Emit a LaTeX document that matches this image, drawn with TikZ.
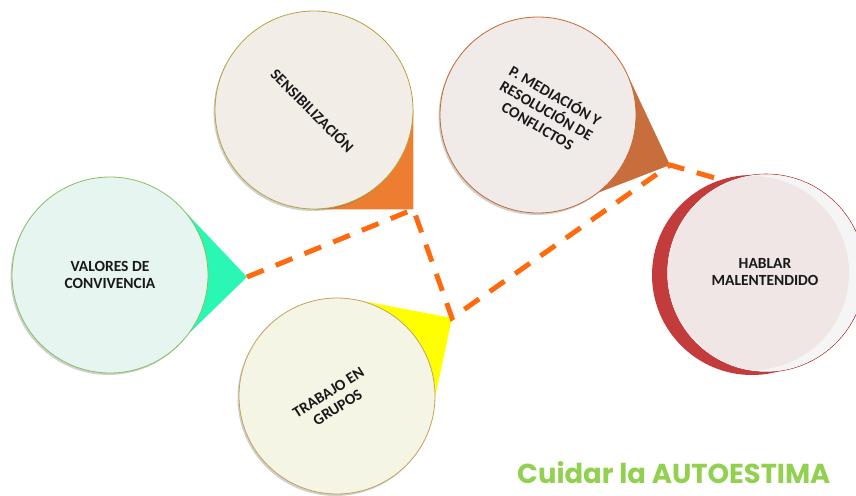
\documentclass[tikz,border=0pt]{standalone}
\usepackage{fontspec}
\setmainfont{Carlito}
\newfontfamily\notefont{Poppins}
\usetikzlibrary{calc,shadows}

\definecolor{dashorange}{HTML}{FF6A0E}
\definecolor{vfill}{HTML}{E6F5F0}
\definecolor{vline}{HTML}{86C062}
\definecolor{vtail}{HTML}{2BF7B5}
\definecolor{sfill}{HTML}{F3EDE8}
\definecolor{sline}{HTML}{B5A53F}
\definecolor{stail}{HTML}{ED7D31}
\definecolor{mfill}{HTML}{F0EBE8}
\definecolor{mline}{HTML}{C46A35}
\definecolor{mtail}{HTML}{C86E3C}
\definecolor{tfill}{HTML}{F5F5E6}
\definecolor{tline}{HTML}{C4A35A}
\definecolor{ttail}{HTML}{FFFF00}
\definecolor{hred}{HTML}{C43B3B}
\definecolor{hface}{HTML}{F1E6E6}
\definecolor{hlight}{HTML}{F6F5F5}
\definecolor{notegreen}{HTML}{92D050}

\pgfdeclarelayer{background}
\pgfsetlayers{background,main}

\begin{document}
\begin{tikzpicture}[x=1pt,y=-1pt,
  bubble/.style={circle, inner sep=0pt, minimum size=196pt, line width=0.8pt,
    drop shadow={shadow xshift=-1.5pt, shadow yshift=-2pt, opacity=0.3, fill=black!60}},
  caption/.style={font=\bfseries\fontsize{15.5}{17.5}\selectfont, align=center, text=black!90},
  link/.style={draw=dashorange, line width=5pt, dash pattern=on 18pt off 13pt}]
\clip (0,0) rectangle (856,495);

% the four callout bubbles
\node[bubble, fill=vfill, draw=vline] (V) at (110,275) {};
\node[bubble, fill=sfill, draw=sline, minimum size=198pt] (S) at (314,110) {};
\node[bubble, fill=mfill, draw=mline] (M) at (538,115) {};
\node[bubble, fill=tfill, draw=tline] (T) at (337,396) {};

\coordinate (Vtip) at (247,277);
\coordinate (Scorner) at (S.east |- S.south);
\coordinate (Mtip) at (670,165);
\coordinate (Ttip) at (452,318);

% white page and the pointers behind the bubbles
\begin{pgfonlayer}{background}
  \fill[white] (0,0) rectangle (856,495);
  \fill[vtail] (Vtip) -- (V.39) -- (V.-36) -- cycle;
  \fill[stail] (S.east) -- (Scorner) -- (S.south) -- cycle;
  \fill[mtail] (Mtip) -- (M.22) -- (M.-52) -- cycle;
  \fill[ttail] (Ttip) -- (T.75) -- (T.0) -- cycle;
\end{pgfonlayer}

% red disc with its face
\node[circle, inner sep=0pt, minimum size=200pt, fill=hred] (Hb) at (752,275) {};
\node[circle, inner sep=0pt, minimum size=198pt, fill=hface, draw=hred!90!black, line width=0.6pt] (Hf) at (766,273) {};
\begin{scope}
  \clip (766,273) circle (98.5);
  \fill[hlight] (766,273) circle (98.5);
  \fill[hface] (752,273) circle (97);
\end{scope}

% captions
\node[caption] (Vt) at (110,275) {VALORES DE\\CONVIVENCIA};
\node[caption, rotate=-45] (St) at (313,110) {SENSIBILIZACIÓN};
\node[caption, rotate=-30] (Mt) at (547,110) {P. MEDIACIÓN Y\\RESOLUCIÓN DE\\CONFLICTOS};
\node[caption, rotate=32] (Tt) at (333,400) {TRABAJO EN\\GRUPOS};
\node[caption] (Ht) at (765,272) {HABLAR\\MALENTENDIDO};

% dashed links
\draw[link] (Vtip) -- (Scorner) -- (Ttip) -- (Mtip) -- (Hb.108);

% note at the bottom
\node[anchor=base west, inner sep=0pt, text=notegreen,
  font=\notefont\bfseries\fontsize{27.4}{30}\selectfont] (note) at (517,483) {Cuidar la AUTOESTIMA};
\end{tikzpicture}
\end{document}
